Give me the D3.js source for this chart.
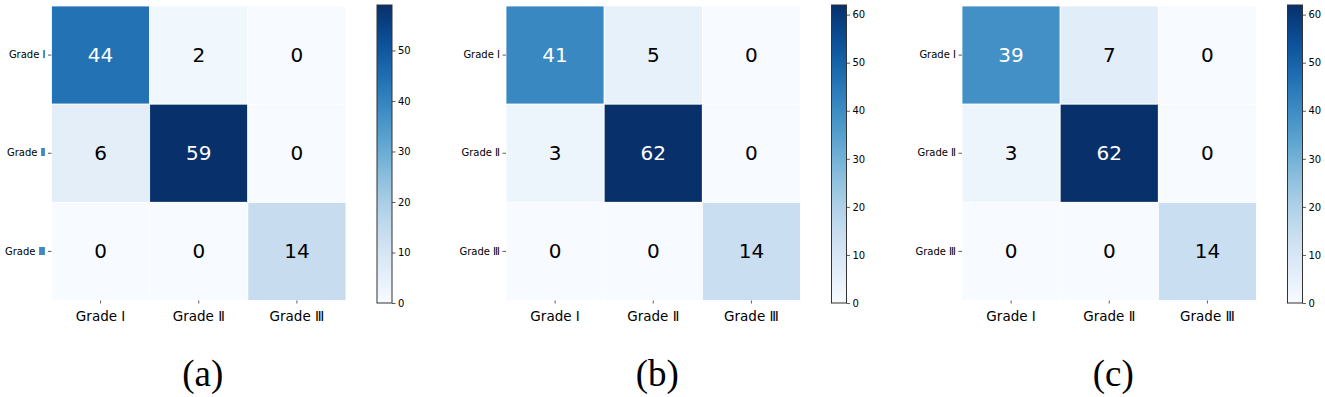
<!DOCTYPE html>
<html>
<head>
<meta charset="utf-8">
<script src="https://cdn.jsdelivr.net/npm/d3@7"></script>
<style>
  body { margin: 0; background: #fff; }
  svg { display: block; font-family: "DejaVu Sans", sans-serif; }
</style>
</head>
<body>
<div id="chart"></div>
<script>
// data
const categories = ["Grade I", "Grade Ⅱ", "Grade Ⅲ"];
const matrixA = [[44, 2, 0], [6, 59, 0], [0, 0, 14]];
const matrixB = [[41, 5, 0], [3, 62, 0], [0, 0, 14]];
const matrixC = [[39, 7, 0], [3, 62, 0], [0, 0, 14]];
const panelLabels = ["(a)", "(b)", "(c)"];
const colorbarTicks = [0, 10, 20, 30, 40, 50, 60];

const W = 1325, H = 397;
const svg = d3.select("#chart").append("svg")
    .attr("width", W)
    .attr("height", H);

const defs = svg.append("defs");

// where each heatmap sits
const panelLeft = [51.5, 506, 962];
const size = 294.5;
const topY = 6;
const FONT = "'DejaVu Sans', sans-serif";

function styleAxis(sel, fontSize) {
    sel.select(".domain").remove();
    sel.attr("font-family", FONT);
    sel.selectAll("text").attr("font-size", fontSize).attr("fill", "#000");
    sel.selectAll("line").attr("stroke", "#333").attr("stroke-width", 0.8);
}

function drawPanel(matrix, idx) {
    const left = panelLeft[idx];
    const maxVal = d3.max(matrix.flat());
    const color = d3.scaleSequential(d3.interpolateBlues).domain([0, maxVal]);

    const x = d3.scaleBand().domain(categories).range([left, left + size]);
    const y = d3.scaleBand().domain(categories).range([topY, topY + size]);

    const g = svg.append("g");

    const cells = [];
    matrix.forEach((row, i) => row.forEach((v, j) => cells.push({ r: categories[i], c: categories[j], v })));

    g.selectAll("rect.cell")
        .data(cells)
        .enter().append("rect")
        .attr("class", "cell")
        .attr("x", d => x(d.c))
        .attr("y", d => y(d.r))
        .attr("width", x.bandwidth())
        .attr("height", y.bandwidth())
        .attr("fill", d => color(d.v))
        .attr("stroke", "#fff")
        .attr("stroke-width", 0.8);

    g.selectAll("text.val")
        .data(cells)
        .enter().append("text")
        .attr("class", "val")
        .attr("x", d => x(d.c) + x.bandwidth() / 2)
        .attr("y", d => y(d.r) + y.bandwidth() / 2)
        .attr("text-anchor", "middle")
        .attr("dominant-baseline", "central")
        .attr("font-family", FONT)
        .attr("font-size", 20)
        .attr("fill", d => d.v > maxVal / 2 ? "#fff" : "#000")
        .text(d => d.v);

    // axes
    const xAxis = g.append("g")
        .attr("transform", `translate(0,${topY + size})`)
        .call(d3.axisBottom(x).tickSize(3).tickPadding(8));
    styleAxis(xAxis, 13.5);

    const yAxis = g.append("g")
        .attr("transform", `translate(${left},0)`)
        .call(d3.axisLeft(y).tickSize(3.5).tickPadding(2.5));
    styleAxis(yAxis, 10);

    // colorbar
    const cbX = left + 325.5, cbW = 15;
    const cbScale = d3.scaleLinear().domain([0, maxVal]).range([303, 5]);
    const gradId = "grad" + idx;
    const grad = defs.append("linearGradient")
        .attr("id", gradId)
        .attr("x1", 0).attr("y1", 1).attr("x2", 0).attr("y2", 0);
    d3.range(0, 1.0001, 0.05).forEach(t => {
        grad.append("stop").attr("offset", t).attr("stop-color", d3.interpolateBlues(t));
    });
    g.append("rect")
        .attr("x", cbX)
        .attr("y", cbScale(maxVal))
        .attr("width", cbW)
        .attr("height", cbScale(0) - cbScale(maxVal))
        .attr("fill", `url(#${gradId})`)
        .attr("stroke", "#333")
        .attr("stroke-width", 1);

    const cbAxis = g.append("g")
        .attr("transform", `translate(${cbX + cbW},0)`)
        .call(d3.axisRight(cbScale)
            .tickValues(colorbarTicks.filter(t => t <= maxVal))
            .tickSize(3.5).tickPadding(2.5));
    styleAxis(cbAxis, 10);

    // panel label
    g.append("text")
        .attr("x", left + size / 2 + 4)
        .attr("y", 386)
        .attr("text-anchor", "middle")
        .attr("font-family", "'Liberation Serif', 'Times New Roman', serif")
        .attr("font-size", 37)
        .attr("fill", "#000")
        .text(panelLabels[idx]);
}

[matrixA, matrixB, matrixC].forEach((m, i) => drawPanel(m, i));
</script>
</body>
</html>
